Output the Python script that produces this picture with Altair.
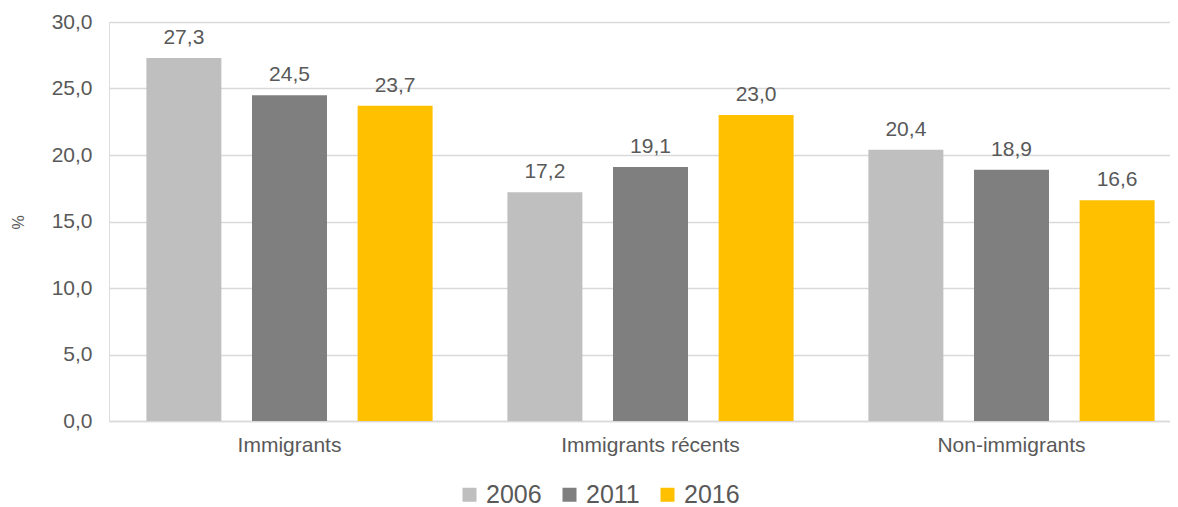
import altair as alt
import pandas as pd

categories = ["Immigrants", "Immigrants récents", "Non-immigrants"]
years = ["2006", "2011", "2016"]
values_2006 = [27.3, 17.2, 20.4]
values_2011 = [24.5, 19.1, 18.9]
values_2016 = [23.7, 23.0, 16.6]
colors = ["#bfbfbf", "#7f7f7f", "#ffc000"]
y_ticks = [0, 5, 10, 15, 20, 25, 30]

rows = []
for yr, vals in zip(years, [values_2006, values_2011, values_2016]):
    for c, v in zip(categories, vals):
        rows.append({"cat": c, "year": yr, "value": v})
df = pd.DataFrame(rows)

FONT = "Liberation Sans"
TXT = "#595959"

base = alt.Chart(df).transform_calculate(
    label="replace(format(datum.value, '.1f'), '.', ',')"
)

x_enc = alt.X("cat:N", sort=categories, title=None,
              scale=alt.Scale(range=[0, 1083], paddingInner=0, paddingOuter=0),
              axis=alt.Axis(labelAngle=0, labelFontSize=21, labelColor=TXT, labelFont=FONT,
                            domainColor="#d9d9d9", domainWidth=1.5, ticks=False, labelPadding=13))
xo_enc = alt.XOffset("year:N", sort=years,
                     scale=alt.Scale(paddingInner=0.29, paddingOuter=0.354))

bars = base.mark_bar().encode(
    x=x_enc,
    xOffset=xo_enc,
    y=alt.Y("value:Q", title="%",
            scale=alt.Scale(domain=[0, 30], nice=False),
            axis=alt.Axis(values=y_ticks, labelExpr="replace(format(datum.value, '.1f'), '.', ',')",
                          labelFontSize=21, labelColor=TXT, labelFont=FONT, labelPadding=17,
                          ticks=False, domain=False, gridColor="#d9d9d9", gridWidth=1.5,
                          titleFontSize=16, titleColor=TXT, titleFont=FONT, titleFontWeight="normal",
                          titleX=-91, titleY=200, titleAngle=270, titleAlign="center",
                          titleBaseline="middle")),
    color=alt.Color("year:N", sort=years, scale=alt.Scale(domain=years, range=colors),
                    legend=alt.Legend(title=None, orient="none", direction="horizontal",
                                      legendX=348, legendY=460, symbolType="square",
                                      symbolSize=196, symbolStrokeWidth=0, labelFontSize=25,
                                      labelColor=TXT, labelFont=FONT, labelOffset=4,
                                      columnPadding=15, symbolOpacity=1)),
)

labels = base.mark_text(baseline="alphabetic", dy=-14, fontSize=21, color=TXT, font=FONT).encode(
    x=alt.X("cat:N", sort=categories),
    xOffset=alt.XOffset("year:N", sort=years),
    y="value:Q",
    text="label:N",
)

chart = alt.layer(bars, labels).properties(
    width=1061, height=399,
    autosize=alt.AutoSizeParams(type="none"),
    padding={"left": 101, "top": 14, "right": 0, "bottom": 86},
).configure_view(stroke=None).configure(background="white")

chart.save("out.html", embed_options={"renderer": "svg", "actions": False})
